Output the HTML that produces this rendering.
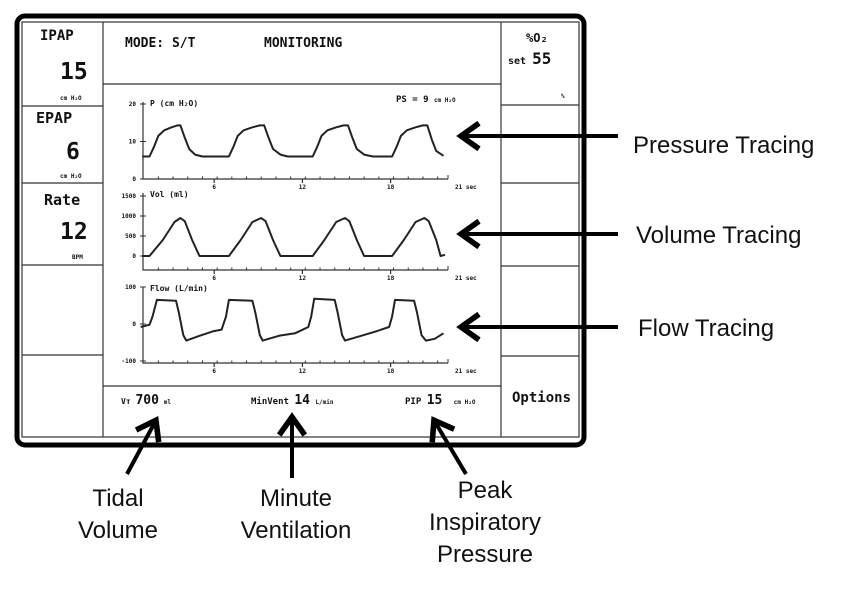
<!DOCTYPE html>
<html><head><meta charset="utf-8"><style>
body{margin:0;background:#fff;width:857px;height:612px;overflow:hidden}
svg{display:block}
.m{font-family:"DejaVu Sans Mono","Liberation Mono",monospace;font-weight:bold;fill:#111}
.a{font-family:"Liberation Sans",sans-serif;fill:#111}
</style></head><body>
<svg id="s" width="857" height="612" xmlns="http://www.w3.org/2000/svg">
<defs><marker id="ah" markerWidth="8" markerHeight="8" refX="2" refY="4" orient="auto" markerUnits="strokeWidth"><path d="M6,0.8 L1.5,4 L6,7.2" fill="none" stroke="#000" stroke-width="1.4"/></marker></defs>
<rect x="17" y="16" width="567" height="429" rx="8" fill="#fff" stroke="#000" stroke-width="5"/>
<rect x="22" y="22" width="557" height="415" fill="none" stroke="#333" stroke-width="1.2"/>
<g stroke="#333" stroke-width="1.2">
<line x1="103" y1="22" x2="103" y2="437"/><line x1="501" y1="22" x2="501" y2="437"/>
<line x1="103" y1="84" x2="501" y2="84"/><line x1="103" y1="386" x2="501" y2="386"/>
<line x1="22" y1="106" x2="103" y2="106"/><line x1="22" y1="183" x2="103" y2="183"/><line x1="22" y1="265" x2="103" y2="265"/><line x1="22" y1="355" x2="103" y2="355"/>
<line x1="501" y1="105" x2="579" y2="105"/><line x1="501" y1="183" x2="579" y2="183"/><line x1="501" y1="266" x2="579" y2="266"/><line x1="501" y1="356" x2="579" y2="356"/>
</g>
<text class="m" x="40" y="40" font-size="14">IPAP</text>
<text class="m" x="60" y="79" font-size="23">15</text>
<text class="m" x="60" y="100" font-size="6">cm H₂O</text>
<text class="m" x="36" y="123" font-size="15">EPAP</text>
<text class="m" x="66" y="159" font-size="23">6</text>
<text class="m" x="60" y="178" font-size="6">cm H₂O</text>
<text class="m" x="44" y="205" font-size="15">Rate</text>
<text class="m" x="60" y="239" font-size="23">12</text>
<text class="m" x="72" y="259" font-size="6">BPM</text>
<text class="m" x="125" y="47" font-size="13">MODE: S/T</text>
<text class="m" x="264" y="47" font-size="13">MONITORING</text>
<text class="m" x="526" y="42" font-size="12">%O₂</text>
<text class="m" x="508" y="64" font-size="10">set <tspan font-size="16">55</tspan></text>
<text class="m" x="561" y="98" font-size="6">%</text>
<text class="m" x="512" y="402" font-size="14">Options</text>
<text class="m" x="396" y="102" font-size="9">PS = 9 <tspan font-size="6">cm H₂O</tspan></text>
<text class="m" x="121" y="404" font-size="8">Vт <tspan font-size="13">700</tspan> <tspan font-size="6">ml</tspan></text>
<text class="m" x="251" y="404" font-size="9">MinVent <tspan font-size="13">14</tspan> <tspan font-size="6">L/min</tspan></text>
<text class="m" x="405" y="404" font-size="9">PIP <tspan font-size="13">15</tspan> <tspan font-size="6" dx="6">cm H₂O</tspan></text>
<g id="plots"></g>
<g stroke="#000" stroke-width="4" fill="none" marker-start="url(#ah)">
<line x1="463" y1="136" x2="618" y2="136"/>
<line x1="463" y1="234" x2="618" y2="234"/>
<line x1="463" y1="327" x2="618" y2="327"/>
<line x1="155" y1="422" x2="127" y2="474"/>
<line x1="292" y1="419" x2="292" y2="478"/>
<line x1="435" y1="422" x2="466" y2="474"/>
</g>
<g class="a" font-size="24">
<text x="633" y="153">Pressure Tracing</text>
<text x="636" y="243">Volume Tracing</text>
<text x="638" y="336">Flow Tracing</text>
<text x="118" y="506" text-anchor="middle"><tspan x="118">Tidal</tspan><tspan x="118" dy="32">Volume</tspan></text>
<text x="296" y="506" text-anchor="middle"><tspan x="296">Minute</tspan><tspan x="296" dy="32">Ventilation</tspan></text>
<text x="485" y="498" text-anchor="middle"><tspan x="485">Peak</tspan><tspan x="485" dy="32">Inspiratory</tspan><tspan x="485" dy="32">Pressure</tspan></text>
</g>
</svg>
<script>
const timeTicks=[6,12,18];
const pressureT=[1.1,1.6,1.9,2.2,2.6,3.1,3.5,3.7,4.0,4.3,4.7,5.2,7.0,7.3,7.6,8.0,8.6,9.1,9.4,9.7,10.0,10.5,11.0,12.7,13.0,13.3,13.7,14.3,14.8,15.1,15.4,15.7,16.2,16.8,18.1,18.4,18.7,19.1,19.7,20.2,20.5,20.8,21.1,21.6];
const pressureV=[6,6,8.5,11.5,13,13.8,14.3,14.3,11,8,6.5,6,6,8.5,11.5,13,13.8,14.3,14.3,11,8,6.5,6,6,8.5,11.5,13,13.8,14.3,14.3,11,8,6.5,6,6,8.5,11.5,13,13.8,14.3,14.3,10.5,7.5,6.2];
const volumeT=[1.1,1.6,2.5,3.3,3.7,4.0,4.5,5.0,5.4,7.0,7.8,8.6,9.2,9.5,10.0,10.5,10.8,12.7,13.5,14.3,14.9,15.2,15.7,16.2,16.6,18.1,18.9,19.7,20.3,20.6,21.1,21.4,21.7];
const volumeV=[0,0,400,850,950,870,400,0,0,0,400,850,950,870,400,0,0,0,400,850,950,870,400,0,0,0,400,850,950,870,400,0,30];
const flowT=[1.0,1.6,1.8,2.1,3.4,3.6,3.9,4.1,5.0,5.9,6.5,6.8,7.0,8.6,8.8,9.1,9.3,10.4,11.5,12.4,12.6,12.8,14.2,14.4,14.7,14.9,16.0,17.0,17.9,18.1,18.3,19.6,19.8,20.1,20.4,21.0,21.6];
const flowV=[-8,-2,20,65,63,30,-30,-45,-32,-20,-15,20,65,63,30,-30,-45,-32,-25,-8,20,68,65,30,-30,-45,-32,-20,-8,20,65,63,30,-30,-45,-40,-25];
const NS='http://www.w3.org/2000/svg';
const g=document.getElementById('plots');
const xs=t=>126+14.7*t;
function mk(tag,attrs,parent){const e=document.createElementNS(NS,tag);for(const k in attrs)e.setAttribute(k,attrs[k]);(parent||g).appendChild(e);return e;}
function txt(x,y,s,size,anchor,name){const e=mk('text',{x:x,y:y,'font-size':size,'text-anchor':anchor||'start',class:'m'});e.textContent=s;


return e;}
function panel(name,axisY,yTop,ys,yTicks,yLabels,title,T,V){
  const ax=mk('path',{d:`M143,${yTop} V${axisY} H448`,stroke:'#333','stroke-width':1.2,fill:'none'});
  
  
  for(let t=1.2;t<=21.5;t+=1){const x=xs(t);if(x<145||x>448)continue;const tk=mk('line',{x1:x,y1:axisY,x2:x,y2:axisY-2.5,stroke:'#333','stroke-width':1});
    
    }
  timeTicks.forEach(t=>{const tk=mk('line',{x1:xs(t),y1:axisY,x2:xs(t),y2:axisY+4,stroke:'#333','stroke-width':1.2});
    
    
    txt(xs(t),axisY+10,String(t),6,'middle',name+'-x-tick-label');});
  mk('line',{x1:448,y1:axisY,x2:448,y2:axisY-4,stroke:'#333'});
  txt(455,axisY+10,'21 sec',6,'start',name+'-x-end-label');
  yTicks.forEach((v,i)=>{const y=ys(v);const tk=mk('line',{x1:140,y1:y,x2:146,y2:y,stroke:'#333','stroke-width':1});
    
    
    txt(136,y+2,yLabels[i],6,'end',name+'-y-tick-label');});
  txt(150,yTop+4,title,8,'start',name+'-title');
  const d=T.map((t,i)=>(i?'L':'M')+xs(t).toFixed(1)+','+ys(V[i]).toFixed(1)).join(' ');
  const p=mk('path',{d:d,stroke:'#222','stroke-width':2,fill:'none','stroke-linejoin':'round'});
  
  
}
panel('pressure',179,102,v=>179-3.75*v,[0,10,20],['0','10','20'],'P (cm H₂O)',pressureT,pressureV);
panel('volume',270,193,v=>256-0.04*v,[0,500,1000,1500],['0','500','1000','1500'],'Vol (ml)',volumeT,volumeV);
panel('flow',363,287,v=>324-0.37*v,[-100,0,100],['-100','0','100'],'Flow (L/min)',flowT,flowV);
</script>
</body></html>
